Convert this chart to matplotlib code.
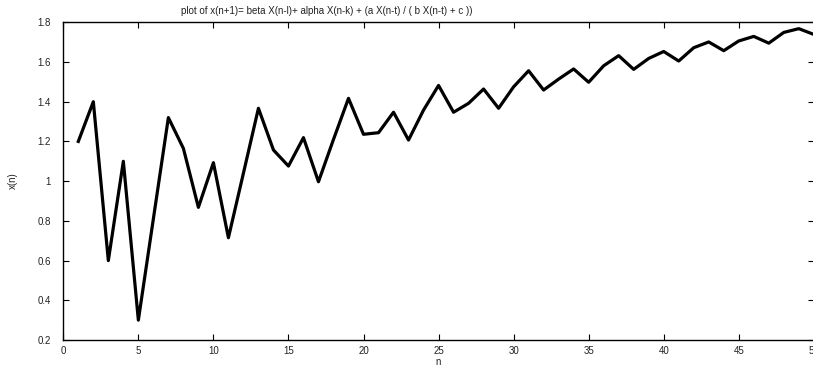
import matplotlib.pyplot as plt

plt.rcParams['font.family'] = ['Liberation Sans', 'DejaVu Sans']

n = list(range(1, 51))
x_n = [1.20, 1.40, 0.60, 1.10, 0.30, 0.81, 1.32, 1.165, 0.868, 1.093,
       0.715, 1.04, 1.367, 1.157, 1.076, 1.219, 0.997, 1.21, 1.417, 1.236,
       1.244, 1.347, 1.207, 1.358, 1.482, 1.347, 1.392, 1.464, 1.367, 1.475,
       1.556, 1.459, 1.514, 1.565, 1.498, 1.581, 1.632, 1.563, 1.618, 1.653,
       1.605, 1.672, 1.701, 1.657, 1.706, 1.729, 1.695, 1.749, 1.768, 1.739]

fig = plt.figure(figsize=(8.13, 3.69), dpi=100)
ax = fig.add_axes([63.3/813, 1 - 340/369, 750.5/813, 317.7/369])

ax.plot(n, x_n, color='black', linewidth=2.3)

ax.set_xlim(0, 50)
ax.set_ylim(0.2, 1.8)
ax.set_xticks(range(0, 51, 5))
ax.set_yticks([0.2, 0.4, 0.6, 0.8, 1.0, 1.2, 1.4, 1.6, 1.8])
ax.set_yticklabels(['0.2', '0.4', '0.6', '0.8', '1', '1.2', '1.4', '1.6', '1.8'])
ax.tick_params(direction='in', length=4.5, width=0.8, labelsize=7,
               labelcolor='#222222', top=True, right=True)
ax.tick_params(axis='x', pad=4)
ax.tick_params(axis='y', pad=9)
for s in ax.spines.values():
    s.set_linewidth(1.0)

fig.text(13/813, 1 - 181/369, 'x(n)', rotation=90, fontsize=7,
         color='#222222', ha='center', va='center')
fig.text(438/813, 1 - 362/369, 'n', fontsize=7, color='#222222',
         ha='center', va='center')
fig.text(327/813, 1 - 11/369,
         'plot of x(n+1)= beta X(n-l)+ alpha X(n-k) + (a X(n-t) / ( b X(n-t) + c ))',
         fontsize=7, color='#222222', ha='center', va='center')

plt.savefig('out.png', dpi=100)
